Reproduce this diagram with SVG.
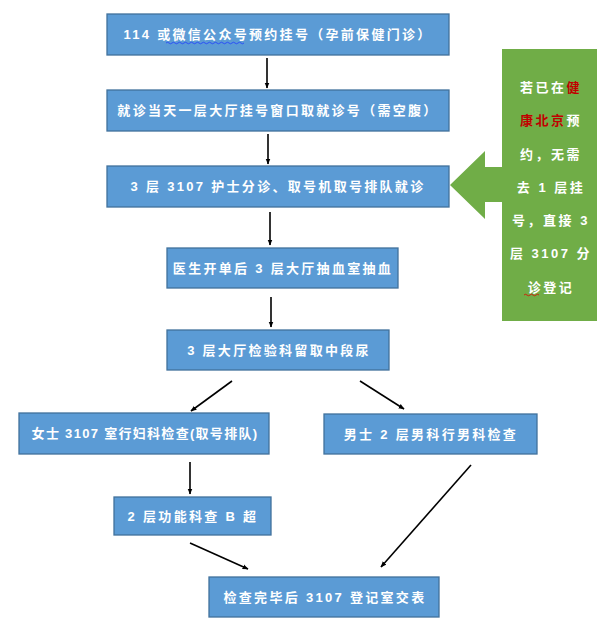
<svg xmlns="http://www.w3.org/2000/svg" width="609" height="623" viewBox="0 0 609 623">
<defs>
<style>
.box{fill:#5b9bd5;stroke:#41719c;stroke-width:1.3}
.t{font-family:"Liberation Sans","Noto Sans CJK SC",sans-serif;font-size:13px;font-weight:bold;fill:#fff;text-anchor:middle;letter-spacing:2.3px}
.g{font-family:"Liberation Sans","Noto Sans CJK SC",sans-serif;font-size:13px;font-weight:bold;fill:#fff;text-anchor:middle;letter-spacing:2.5px}
.r{fill:#c00000}
.c{stroke:#000;stroke-width:1.6;fill:none;marker-end:url(#ah)}
</style>
<marker id="ah" viewBox="0 0 10 10" refX="9" refY="5" markerWidth="6" markerHeight="6" orient="auto" markerUnits="userSpaceOnUse">
<path d="M0,1 L10,5 L0,9 z" fill="#000"/>
</marker>
</defs>
<rect width="609" height="623" fill="#fff"/>
<g id="n1"><rect class="box" x="107" y="14" width="342" height="41"/><text class="t" x="278" y="39">114 或微信公众号预约挂号（孕前保健门诊）</text>
<path d="M166,43 q1.5,-1.5 3,0 t3,0 t3,0 t3,0 t3,0 t3,0 t3,0 t3,0 t3,0 t3,0 t3,0 t3,0 t3,0 t3,0 t3,0 t3,0 t3,0 t3,0 t3,0 t3,0 t3,0 t3,0 t3,0 t3,0 t3,0 t3,0" stroke="#1f3cff" stroke-width="0.8" fill="none"/></g>
<g id="n2"><rect class="box" x="107" y="90" width="342" height="41"/><text class="t" x="278" y="115">就诊当天一层大厅挂号窗口取就诊号（需空腹）</text></g>
<g id="n3"><rect class="box" x="107" y="166" width="342" height="41"/><text class="t" x="278" y="191">3 层 3107 护士分诊、取号机取号排队就诊</text></g>
<g id="n4"><rect class="box" x="167" y="248" width="231" height="40"/><text class="t" x="283" y="273">医生开单后 3 层大厅抽血室抽血</text></g>
<g id="n5"><rect class="box" x="167" y="330" width="222" height="40"/><text class="t" x="279" y="355">3 层大厅检验科留取中段尿</text></g>
<g id="n6"><rect class="box" x="19" y="413" width="250" height="41"/><text class="t" x="145" y="438" style="letter-spacing:1.3px">女士 3107 室行妇科检查(取号排队)</text></g>
<g id="n7"><rect class="box" x="324" y="414" width="213" height="40"/><text class="t" x="431" y="439">男士 2 层男科行男科检查</text></g>
<g id="n8"><rect class="box" x="114" y="497" width="157" height="38"/><text class="t" x="193" y="521">2 层功能科查 B 超</text></g>
<g id="n9"><rect class="box" x="209" y="577" width="230" height="40"/><text class="t" x="325" y="602">检查完毕后 3107 登记室交表</text></g>
<g id="callout">
<path d="M502,49 L597,49 L597,321 L502,321 L502,202 L485,202 L485,219 L450,185 L485,151 L485,167 L502,167 Z" fill="#70ad47"/>
<text class="g" x="551" y="92">若已在<tspan class="r">健</tspan></text>
<text class="g" x="551" y="125"><tspan class="r">康北京</tspan>预</text>
<text class="g" x="551" y="159">约，无需</text>
<text class="g" x="551" y="192">去 1 层挂</text>
<text class="g" x="551" y="225">号，直接 3</text>
<text class="g" x="551" y="258">层 3107 分</text>
<text class="g" x="551" y="292">诊登记</text>
<path d="M524,295 q1.5,-1.5 3,0 t3,0 t3,0 t3,0 t3,0" stroke="#e00000" stroke-width="0.8" fill="none"/>
</g>
<g id="connectors">
<path class="c" d="M267,58 L267,88"/>
<path class="c" d="M268,134 L268,164"/>
<path class="c" d="M270,212 L270,245"/>
<path class="c" d="M271,297 L271,327"/>
<path class="c" d="M232,381 L191,411"/>
<path class="c" d="M360,381 L404,409"/>
<path class="c" d="M190,462 L190,494"/>
<path class="c" d="M471,465 L381,567"/>
<path class="c" d="M190,543 L248,569"/>
</g>
</svg>
